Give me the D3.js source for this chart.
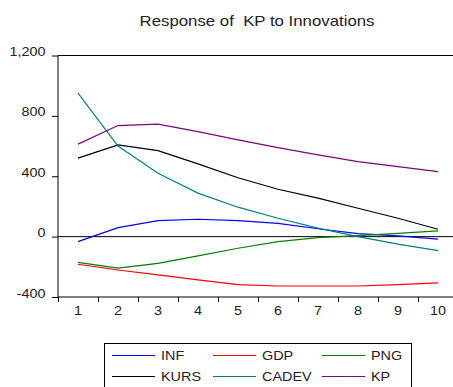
<!DOCTYPE html>
<html>
<head>
<meta charset="utf-8">
<script src="https://cdn.jsdelivr.net/npm/d3@7"></script>
<style>
body { margin: 0; background: #fff; }
text { font-family: "Liberation Sans", Arial, sans-serif; fill: #222; }
</style>
</head>
<body>
<script>
var w = 453;
var h = 387;
var stretch = 1.2; // the reference glyphs are drawn wider than normal

var periods = [1, 2, 3, 4, 5, 6, 7, 8, 9, 10];
var yTicks = [-400, 0, 400, 800, 1200];
var seriesNames = ["INF", "GDP", "PNG", "KURS", "CADEV", "KP"];
var seriesColors = ["#0000ff", "#ff0000", "#008000", "#000000", "#008080", "#800080"];

var inf = [-33, 60, 106, 115, 106, 88, 52, 20, 5, -17];
var gdp = [-183, -221, -254, -287, -318, -327, -327, -327, -318, -307];
var png = [-170, -208, -177, -128, -77, -33, -7, 7, 22, 38];
var kurs = [520, 608, 570, 482, 390, 314, 255, 188, 122, 49];
var cadev = [951, 600, 420, 288, 195, 122, 56, 0, -50, -93];
var kp = [613, 736, 745, 696, 641, 590, 542, 497, 464, 431];

var allSeries = [inf, gdp, png, kurs, cadev, kp];

var plotLeft = 58, plotRight = 458, plotTop = 55.5, plotBottom = 297;

var svg = d3.select("body")
    .append("svg")
    .attr("width", w)
    .attr("height", h);

// text that is stretched horizontally around its anchor point
function addText(parent, x, y, str, size, anchor) {
    return parent.append("text")
        .attr("transform", `translate(${x},${y}) scale(${stretch},1)`)
        .attr("text-anchor", anchor || "start")
        .attr("font-size", size)
        .style("white-space", "pre")
        .text(str);
}

var xScale = d3.scaleBand()
    .domain(periods)
    .range([plotLeft, plotRight]);

var yScale = d3.scaleLinear()
    .domain([-400, 1200])
    .range([plotBottom, plotTop]);

// title
addText(svg, 257, 26, "Response of  KP to Innovations", 14, "middle");

// top frame line
svg.append("line")
    .attr("x1", plotLeft).attr("x2", w)
    .attr("y1", plotTop).attr("y2", plotTop)
    .attr("stroke", "#000");

// zero line
svg.append("line")
    .attr("x1", plotLeft).attr("x2", w)
    .attr("y1", yScale(0)).attr("y2", yScale(0))
    .attr("stroke", "#000");

// y axis
var yAxis = d3.axisLeft(yScale)
    .tickValues(yTicks)
    .tickSize(6)
    .tickFormat(() => "");

var gy = svg.append("g")
    .attr("transform", `translate(${plotLeft},0)`)
    .call(yAxis);
gy.select(".domain").attr("d", `M0,${plotTop}V${plotBottom}`);

var fmt = d3.format(",");
yTicks.forEach(v => {
    addText(svg, 45.5, yScale(v) + 0.5, fmt(v).replace("\u2212", "-"), 12, "end");
});

// x axis: ticks at band boundaries, labels in band centres
var gx = svg.append("g")
    .attr("transform", `translate(0,${plotBottom})`);
gx.append("line")
    .attr("x1", plotLeft).attr("x2", w)
    .attr("stroke", "#000");
gx.selectAll(".tk")
    .data(periods)
    .enter()
    .append("line")
    .attr("x1", d => xScale(d) + 0.5)
    .attr("x2", d => xScale(d) + 0.5)
    .attr("y1", 0)
    .attr("y2", 5)
    .attr("stroke", "#000");
periods.forEach(p => {
    addText(gx, xScale(p) + xScale.bandwidth() / 2, 18, String(p), 12, "middle");
});

var line = d3.line()
    .x((d, i) => xScale(periods[i]) + xScale.bandwidth() / 2)
    .y(d => yScale(d));

svg.selectAll(".series")
    .data(allSeries)
    .enter()
    .append("path")
    .attr("class", "series")
    .attr("d", d => line(d))
    .attr("fill", "none")
    .style("stroke", (d, i) => seriesColors[i])
    .attr("stroke-width", 1.2);

// legend
var lg = svg.append("g");
lg.append("rect")
    .attr("x", 104.5).attr("y", 343.5)
    .attr("width", 307).attr("height", 50)
    .attr("fill", "#fff")
    .attr("stroke", "#000");

var colX = [112, 213, 322];
seriesNames.forEach((name, i) => {
    var lx = colX[i % 3];
    var ly = i < 3 ? 355.5 : 376.5;
    lg.append("path")
        .attr("d", `M${lx},${ly}H${lx + 43}`)
        .attr("fill", "none")
        .style("stroke", seriesColors[i])
        .attr("stroke-width", 1.2);
    addText(lg, lx + 49, ly + 4.5, name, 12, "start");
});
</script>
</body>
</html>
